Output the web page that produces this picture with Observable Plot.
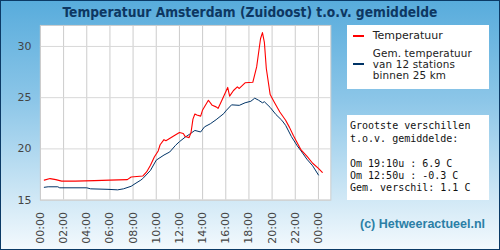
<!DOCTYPE html>
<html>
<head>
<meta charset="utf-8">
<script src="https://cdn.jsdelivr.net/npm/d3@7"></script>
<script src="https://cdn.jsdelivr.net/npm/@observablehq/plot@0.6"></script>
<style>
  body { margin: 0; }
  #wrap { position: relative; width: 500px; height: 250px; box-sizing: border-box; border: 1px solid #0b3a66; overflow: hidden;
    background: linear-gradient(to bottom, #58acdc 0%, #8cc6e8 40%, #c8e4f4 75%, #f3f9fd 100%); }
  #chart { position: absolute; left: -1px; top: -1px; }
  .abs { position: absolute; }
  #title { left: 0; top: 3px; width: 498px; text-align: center; font: bold 13.7px "DejaVu Sans Condensed", "DejaVu Sans", sans-serif; color: #0d3762; }
  .box { background: white; }
  .leg { font: 11px "DejaVu Sans", sans-serif; color: #222; white-space: nowrap; }
  .leg2 { font: 10.4px "DejaVu Sans", sans-serif; color: #222; white-space: nowrap; line-height: 11px; height: 11px; letter-spacing: 0.15px; }
  .mono { font: 10px "DejaVu Sans Mono", monospace; color: #111; line-height: 12.4px; white-space: pre; }
  #copy { font: bold 12.5px "Liberation Sans", Arial, sans-serif; color: #2b7fa6; }
</style>
</head>
<body>
<div id="wrap">
  <div id="chart"></div>
  <div id="title" class="abs"></div>
  <div class="abs box" style="left:345.7px;top:23.5px;width:142.3px;height:64.5px"></div>
  <div class="abs" style="left:352px;top:34px;width:11px;height:2px;background:#ff0000"></div>
  <div class="abs leg" id="leg1" style="left:371.7px;top:28.7px;line-height:11px"></div>
  <div class="abs" style="left:352px;top:62px;width:11px;height:2px;background:#003366"></div>
  <div class="abs" id="leg2" style="left:371.7px;top:47.3px"></div>
  <div class="abs box" style="left:345.7px;top:114px;width:142.3px;height:84.5px"></div>
  <div class="abs mono" id="stats" style="left:349px;top:119.3px"></div>
  <div class="abs" id="copy" style="left:359px;top:216px"></div>
</div>
<script>
const titleText = "Temperatuur Amsterdam (Zuidoost) t.o.v. gemiddelde";
const legendRed = "Temperatuur";
const legendNavy = ["Gem. temperatuur", "van 12 stations", "binnen 25 km"];
const statsLines = ["Grootste verschillen", "t.o.v. gemiddelde:", "", "Om 19:10u : 6.9 C", "Om 12:50u : -0.3 C", "Gem. verschil: 1.1 C"];
const copyright = "(c) Hetweeractueel.nl";

const yTicks = [15, 20, 25, 30];
const xTickHours = [0, 2, 4, 6, 8, 10, 12, 14, 16, 18, 20, 22, 24];
const xTickLabels = ["00:00","02:00","04:00","06:00","08:00","10:00","12:00","14:00","16:00","18:00","20:00","22:00","00:00"];

const redTimes = ["00:20","00:50","01:20","01:50","03:00","04:40","06:00","07:30","07:50","08:20","08:50","09:10","09:30","09:50","10:10","10:20","10:40","10:50","11:30","12:00","12:20","12:30","12:50","13:00","13:10","13:20","13:30","13:50","14:00","14:30","14:50","15:10","15:20","15:40","16:10","16:20","16:40","17:00","17:10","17:40","18:20","18:40","19:00","19:10","19:20","19:30","19:50","20:10","20:40","21:10","21:30","21:50","22:10","22:30","23:00","23:30","00:00","00:20"];
const redValues = [16.95,17.1,17.0,16.85,16.85,16.9,16.95,17.0,17.25,17.3,17.35,17.75,18.4,19.2,19.8,20.4,20.9,20.8,21.25,21.6,21.5,21.2,21.1,21.6,22.9,23.4,23.3,23.2,23.8,24.75,24.25,24.1,23.95,24.75,26.0,25.15,25.7,26.05,25.9,26.45,26.5,28.0,30.75,31.35,30.4,27.85,25.3,24.6,23.6,22.8,22.1,21.3,20.6,19.9,19.3,18.6,18.1,17.7];

const avgTimes = ["00:20","00:40","01:30","01:40","04:00","04:20","05:50","06:40","07:10","07:50","08:10","08:40","08:50","09:30","10:00","10:40","11:10","11:40","12:00","12:30","12:50","13:20","13:50","14:10","14:40","15:10","15:50","16:00","16:30","17:10","17:40","18:10","18:30","18:50","19:10","19:20","19:50","20:20","20:50","21:10","21:40","22:10","22:30","23:00","23:30","00:00"];
const avgValues = [16.25,16.3,16.3,16.2,16.2,16.1,16.05,16.0,16.1,16.35,16.6,16.95,17.1,17.9,18.9,19.4,19.7,20.35,20.7,21.15,21.4,21.8,21.65,22.15,22.45,22.85,23.45,23.7,24.3,24.25,24.5,24.65,24.95,24.75,24.5,24.6,24.05,23.35,22.8,22.3,21.2,20.3,19.8,19.0,18.35,17.45];

function toHours(times) {
  let prev = -1, offset = 0;
  return times.map(t => {
    const [h, m] = t.split(":").map(Number);
    let v = h + m / 60 + offset;
    if (v < prev) { offset += 24; v += 24; }
    prev = v;
    return v;
  });
}
const redH = toHours(redTimes), avgH = toHours(avgTimes);
const red = redValues.map((v, i) => ({t: redH[i], v}));
const avg = avgValues.map((v, i) => ({t: avgH[i], v}));

const chart = Plot.plot({
  width: 500, height: 250,
  marginLeft: 40, marginRight: 169, marginTop: 25, marginBottom: 50,
  style: {background: "transparent", fontFamily: "DejaVu Sans", fontSize: "11px", color: "#444"},
  x: {type: "linear", domain: [0, 25.07]},
  y: {domain: [15, 32.05]},
  marks: [
    Plot.frame({fill: "white"}),
    Plot.gridX(xTickHours, {stroke: "#cccccc", strokeOpacity: 1}),
    Plot.gridY(yTicks, {stroke: "#d8d8d8", strokeOpacity: 1}),
    Plot.frame({stroke: "#cccccc"}),
    Plot.line(avg, {x: "t", y: "v", stroke: "#003366", strokeWidth: 1}),
    Plot.line(red, {x: "t", y: "v", stroke: "#ff0000", strokeWidth: 1.1}),
    Plot.axisY(yTicks, {tickSize: 0, tickPadding: 9, label: null}),
    Plot.axisX(xTickHours, {tickSize: 0, tickPadding: 12, tickRotate: -90, label: null,
      tickFormat: d => xTickLabels[xTickHours.indexOf(d)]})
  ]
});
document.getElementById("chart").appendChild(chart);
document.getElementById("title").textContent = titleText;
document.getElementById("leg1").textContent = legendRed;
const leg2 = document.getElementById("leg2");
legendNavy.forEach(line => {
  const d = document.createElement("div");
  d.className = "leg2";
  d.textContent = line;
  leg2.appendChild(d);
});
document.getElementById("stats").textContent = statsLines.join("\n");
document.getElementById("copy").textContent = copyright;
</script>
</body>
</html>
